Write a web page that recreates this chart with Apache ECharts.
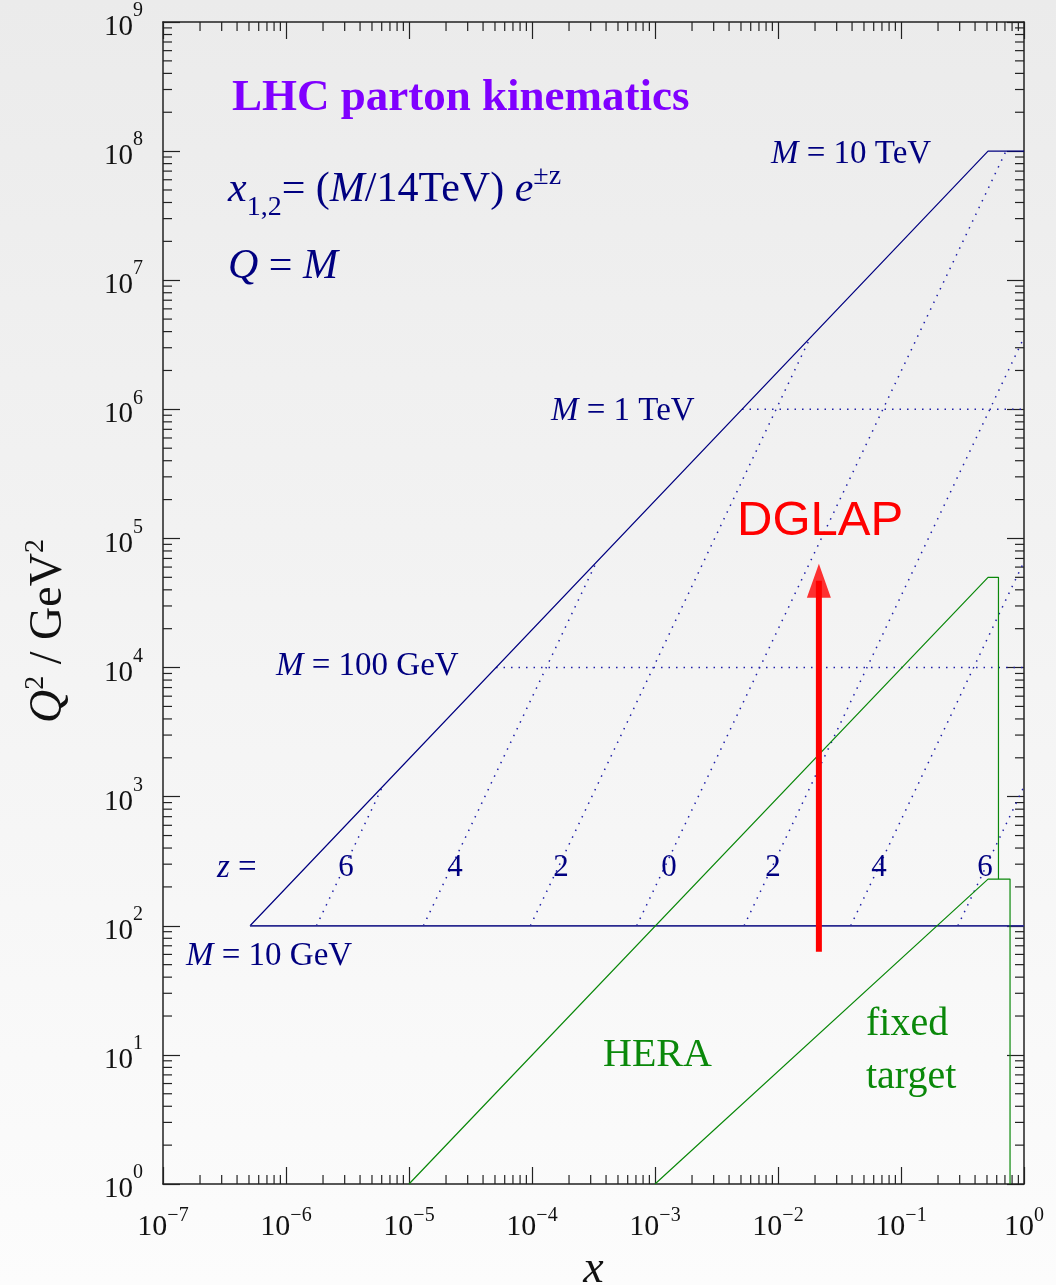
<!DOCTYPE html>
<html>
<head>
<meta charset="utf-8">
<title>LHC parton kinematics</title>
<script src="https://cdn.jsdelivr.net/npm/echarts@6/dist/echarts.min.js"></script>
<style>
  html, body { margin: 0; padding: 0; }
  #chart { width: 1056px; height: 1285px; }
</style>
</head>
<body>
<div id="chart"></div>
<script>
// kinematic boundaries, [x, Q^2]
const lhcEdge = [[5.1e-7, 1e2], [0.51, 1e8], [1, 1e8]];
const lhcFloor = [[5.1e-7, 1e2], [1, 1e2]];
const massTeV = [[5.1e-3, 1e6], [1, 1e6]];
const mass100GeV = [[5.1e-5, 1e4], [1, 1e4]];

// constant rapidity lines, z = 6 4 2 0 -2 -4 -6
const zLabels = ['6', '4', '2', '0', '2', '4', '6'];
const rapidityLines = [
  [[1.77e-6, 1e2], [6.1e-6, 1.2e3]],
  [[1.31e-5, 1e2], [3.35e-4, 6.6e4]],
  [[9.7e-5, 1e2], [1.83e-2, 3.6e6]],
  [[7.1e-4, 1e2], [0.714, 1e8]],
  [[5.3e-3, 1e2], [1, 3.6e6]],
  [[3.9e-2, 1e2], [1, 6.6e4]],
  [[0.29, 1e2], [1, 1.2e3]]
];

const heraEdge = [[1e-5, 1], [0.51, 5e4], [0.62, 5e4], [0.62, 230]];
const fixedTargetEdge = [[1e-3, 1], [0.51, 230], [0.77, 230], [0.77, 1]];

const dglapShaft = [[0.0215, 63], [0.0215, 4.7e4]];
const dglapHead = [[0.0215, 4.7e4]];

// axis ticks: decades and minor steps
const xDecades = [-7, -6, -5, -4, -3, -2, -1];
const yDecades = [0, 1, 2, 3, 4, 5, 6, 7, 8];
const minorSteps = [2, 3, 4, 5, 6, 7, 8, 9];

const serif = '"Liberation Serif", "Times New Roman", serif';
const navy = '#000080';
const dots = '#2020a8';
const green = '#0a880a';
const frame = '#222';

let minorTicks = [];
xDecades.forEach(d => minorSteps.forEach(s => minorTicks.push([s * Math.pow(10, d), 1, 0])));
yDecades.forEach(d => minorSteps.forEach(s => minorTicks.push([1e-7, s * Math.pow(10, d), 1])));

function expLabel(v) {
  let e = Math.round(Math.log10(v));
  return '{b|10}{s|' + (e < 0 ? '\u2212' + (-e) : e) + '}';
}

function txt(x, y, text, extra) {
  return {
    type: 'text', x: x, y: y, silent: true, z: 100,
    style: Object.assign({
      text: text, align: 'left', verticalAlign: 'middle',
      textAlign: 'left', textVerticalAlign: 'middle',
      fontFamily: serif, fontSize: 33, fill: navy
    }, extra)
  };
}

const massRich = {
  i: {fontFamily: serif, fontSize: 33, fontStyle: 'italic', fill: navy},
  n: {fontFamily: serif, fontSize: 33, fill: navy}
};

let chartDom = document.getElementById('chart');
let myChart = echarts.init(chartDom);
let option;

let lineSeries = (data, color, width, dash) => ({
  type: 'line',
  data: data,
  symbol: 'none',
  silent: true,
  animation: false,
  lineStyle: {color: color, width: width, type: dash || 'solid', cap: 'butt'}
});

let series = [];
rapidityLines.forEach(d => series.push(lineSeries(d, dots, 1.5, [1.5, 6])));
series.push(lineSeries(massTeV, dots, 1.5, [1.5, 6]));
series.push(lineSeries(mass100GeV, dots, 1.5, [1.5, 6]));
series.push(lineSeries(lhcEdge, navy, 1.2));
series.push(lineSeries(lhcFloor, '#2a2a90', 1.8));
series.push(lineSeries(heraEdge, green, 1.2));
series.push(lineSeries(fixedTargetEdge, green, 1.2));
series.push(lineSeries(dglapShaft, '#ff0000', 6));
series.push({
  type: 'scatter',
  data: dglapHead,
  symbol: 'triangle',
  symbolSize: [24, 34],
  silent: true,
  animation: false,
  itemStyle: {color: '#ff0000'}
});
series.push({
  type: 'custom',
  data: minorTicks,
  silent: true,
  animation: false,
  encode: {x: 0, y: 1},
  renderItem: function (params, api) {
    let r = params.coordSys;
    let p = api.coord([api.value(0), api.value(1)]);
    let len = 9;
    let style = {stroke: frame, lineWidth: 1.2};
    if (api.value(2) === 0) {
      return {type: 'group', children: [
        {type: 'line', shape: {x1: p[0], y1: r.y + r.height, x2: p[0], y2: r.y + r.height - len}, style: style},
        {type: 'line', shape: {x1: p[0], y1: r.y, x2: p[0], y2: r.y + len}, style: style}
      ]};
    }
    return {type: 'group', children: [
      {type: 'line', shape: {x1: r.x, y1: p[1], x2: r.x + len, y2: p[1]}, style: style},
      {type: 'line', shape: {x1: r.x + r.width, y1: p[1], x2: r.x + r.width - len, y2: p[1]}, style: style}
    ]};
  }
});

let axisCommon = {
  type: 'log',
  logBase: 10,
  axisLine: {show: true, onZero: false, lineStyle: {color: frame, width: 1.5}},
  axisTick: {show: true, inside: true, length: 17, lineStyle: {color: frame, width: 1.2}},
  splitLine: {show: false},
  minorTick: {show: false}
};

option = {
  backgroundColor: {
    type: 'linear', x: 0, y: 0, x2: 0, y2: 1,
    colorStops: [{offset: 0, color: '#ebebeb'}, {offset: 1, color: '#fcfcfc'}]
  },
  animation: false,
  grid: {left: 163, right: 32, top: 22, bottom: 101, containLabel: false, outerBoundsMode: 'none'},
  xAxis: [
    Object.assign({}, axisCommon, {
      min: 1e-7, max: 1, splitNumber: 7, position: 'bottom',
      name: 'x', nameLocation: 'middle', nameGap: 58,
      nameTextStyle: {fontFamily: serif, fontSize: 46, fontStyle: 'italic', color: '#111'},
      axisLabel: {
        margin: 22, formatter: expLabel,
        rich: {
          b: {fontFamily: serif, fontSize: 30, color: '#111'},
          s: {fontFamily: serif, fontSize: 20, color: '#111', padding: [0, 0, 22, 0]}
        }
      }
    }),
    Object.assign({}, axisCommon, {
      min: 1e-7, max: 1, splitNumber: 7, position: 'top', axisLabel: {show: false}
    })
  ],
  yAxis: [
    Object.assign({}, axisCommon, {
      min: 1, max: 1e9, splitNumber: 9, position: 'left',
      axisLabel: {
        margin: 20, formatter: expLabel,
        rich: {
          b: {fontFamily: serif, fontSize: 29, color: '#111', padding: [11, 0, 0, 0]},
          s: {fontFamily: serif, fontSize: 20, color: '#111', padding: [0, 0, 22, 0]}
        }
      }
    }),
    Object.assign({}, axisCommon, {
      min: 1, max: 1e9, splitNumber: 9, position: 'right', axisLabel: {show: false}
    })
  ],
  graphic: [
    {
      type: 'text', x: 49, y: 631, rotation: Math.PI / 2, silent: true,
      style: {
        text: '{i|Q}{s|2}{n| / GeV}{s|2}',
        align: 'center', verticalAlign: 'middle', textAlign: 'center', textVerticalAlign: 'middle',
        rich: {
          i: {fontFamily: serif, fontSize: 46, fontStyle: 'italic', fill: '#111'},
          n: {fontFamily: serif, fontSize: 46, fill: '#111'},
          s: {fontFamily: serif, fontSize: 28, fill: '#111', padding: [0, 0, 26, 0]}
        }
      }
    },
    txt(232, 98, 'LHC parton kinematics', {fontSize: 45, fontWeight: 'bold', fill: '#8000ff'}),
    txt(228, 190, '{i|x}{sub|1,2}{n|= (}{i|M}{n|/14TeV)}{i| e}{sup|\u00b1z}', {
      rich: {
        n: {fontFamily: serif, fontSize: 42, fill: navy},
        i: {fontFamily: serif, fontSize: 42, fontStyle: 'italic', fill: navy},
        sub: {fontFamily: serif, fontSize: 28, fill: navy, padding: [36, 0, 0, 0]},
        sup: {fontFamily: serif, fontSize: 28, fill: navy, padding: [0, 0, 26, 0]}
      }
    }),
    txt(228, 267, '{i|Q}{n| = }{i|M}', {
      rich: {
        n: {fontFamily: serif, fontSize: 42, fill: navy},
        i: {fontFamily: serif, fontSize: 42, fontStyle: 'italic', fill: navy}
      }
    }),
    txt(771, 154, '{i|M}{n| = 10 TeV}', {rich: massRich}),
    txt(551, 411, '{i|M}{n| = 1 TeV}', {rich: massRich}),
    txt(276, 666, '{i|M}{n| = 100 GeV}', {rich: massRich}),
    txt(186, 956, '{i|M}{n| = 10 GeV}', {rich: massRich}),
    txt(217, 868, '{i|z}{n| =}', {rich: massRich}),
    txt(346, 868, zLabels[0], {align: 'center', textAlign: 'center', fontSize: 31}),
    txt(455, 868, zLabels[1], {align: 'center', textAlign: 'center', fontSize: 31}),
    txt(561, 868, zLabels[2], {align: 'center', textAlign: 'center', fontSize: 31}),
    txt(669, 868, zLabels[3], {align: 'center', textAlign: 'center', fontSize: 31}),
    txt(773, 868, zLabels[4], {align: 'center', textAlign: 'center', fontSize: 31}),
    txt(879, 868, zLabels[5], {align: 'center', textAlign: 'center', fontSize: 31}),
    txt(985, 868, zLabels[6], {align: 'center', textAlign: 'center', fontSize: 31}),
    txt(737, 521, 'DGLAP', {fontFamily: '"Liberation Sans", Arial, sans-serif', fontSize: 49, fill: '#ff0000'}),
    txt(603, 1055, 'HERA', {fontSize: 40, fill: green}),
    txt(866, 1024, 'fixed', {fontSize: 40, fill: green}),
    txt(866, 1077, 'target', {fontSize: 40, fill: green})
  ],
  series: series
};

option && myChart.setOption(option);
</script>
</body>
</html>
